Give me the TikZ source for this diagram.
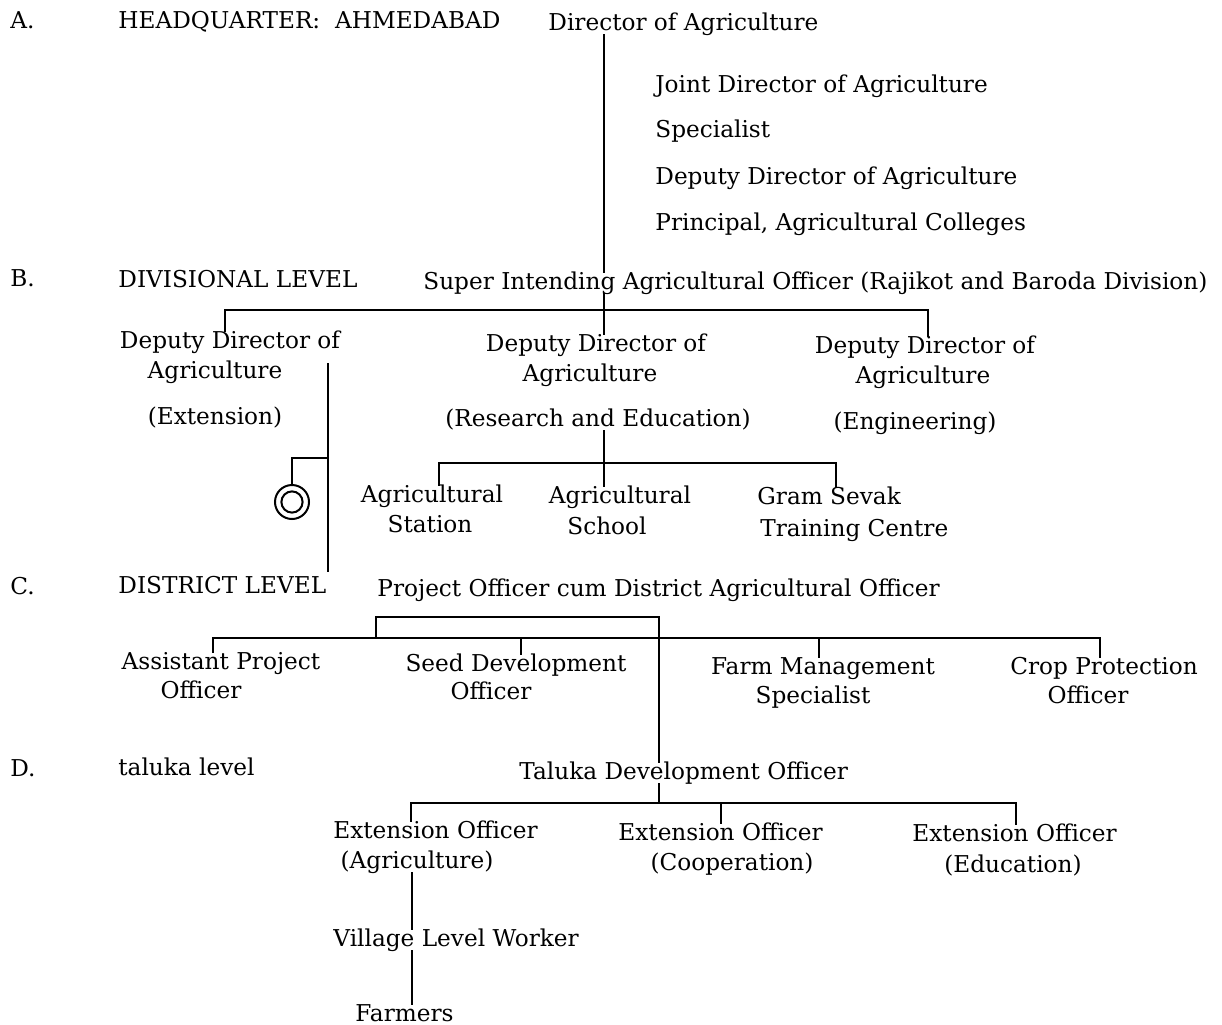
\documentclass[tikz,border=0pt]{standalone}
\usepackage{fontspec}
\setmainfont{DejaVu Serif}
\begin{document}
\begin{tikzpicture}[x=0.5pt,y=-0.5pt,
  txt/.style={font=\fontsize{11.6}{13}\selectfont, inner sep=0pt, text height=1.55ex, text depth=0.35ex},
  lw/.style={anchor=west},
  link/.style={line width=1.1pt}]
\useasboundingbox (0,0) rectangle (1222,1024);

% ---------- A. Headquarter ----------
\node[txt,lw] (la)   at (10,22)  {A.};
\node[txt,lw] (hq)   at (118,22) {HEADQUARTER:\ \ AHMEDABAD};
\node[txt,lw] (dir)  at (548,24) {Director of Agriculture};
\node[txt,lw] (jd)   at (655,86)  {Joint Director of Agriculture};
\node[txt,lw] (spec) at (655,131) {Specialist};
\node[txt,lw] (ddir) at (655,178) {Deputy Director of Agriculture};
\node[txt,lw] (prin) at (655,224) {Principal, Agricultural Colleges};

% ---------- B. Divisional level ----------
\node[txt,lw] (lb)  at (10,280)  {B.};
\node[txt,lw] (div) at (118,281) {DIVISIONAL LEVEL};
\node[txt,lw] (sup) at (423,283) {Super Intending Agricultural Officer (Rajikot and Baroda Division)};

\node[txt] (ddex)  at (230,342) {Deputy Director of};
\node[txt] (agex)  at (215,372) {Agriculture};
\node[txt] (ext)   at (215,418) {(Extension)};
\node[txt] (ddre)  at (596,345) {Deputy Director of};
\node[txt] (agre)  at (590,375) {Agriculture};
\node[txt] (re)    at (598,420) {(Research and Education)};
\node[txt] (ddeng) at (925,347) {Deputy Director of};
\node[txt] (ageng) at (923,377) {Agriculture};
\node[txt] (eng)   at (915,423) {(Engineering)};

\node[txt] (agst)  at (432,496) {Agricultural};
\node[txt] (stn)   at (430,526) {Station};
\node[txt] (agsch) at (620,497) {Agricultural};
\node[txt] (sch)   at (607,528) {School};
\node[txt,lw] (gram) at (757,498) {Gram Sevak};
\node[txt,lw] (trc)  at (760,530) {Training Centre};

\node[circle, draw, line width=1pt, minimum size=17pt, inner sep=0pt] (ring) at (292,502) {};
\draw[line width=1pt] (ring.center) circle[radius=5.3pt];

% ---------- C. District level ----------
\node[txt,lw] (lc)   at (10,588)  {C.};
\node[txt,lw] (dist) at (118,587) {DISTRICT LEVEL};
\node[txt,lw] (poc)  at (377,590) {Project Officer cum District Agricultural Officer};

\node[txt] (apo)  at (221,663)  {Assistant Project};
\node[txt] (apo2) at (201,692)  {Officer};
\node[txt] (sdo)  at (516,665)  {Seed Development};
\node[txt] (sdo2) at (491,693)  {Officer};
\node[txt] (fms)  at (823,668)  {Farm Management};
\node[txt] (fms2) at (813,697)  {Specialist};
\node[txt] (cpo)  at (1104,668) {Crop Protection};
\node[txt] (cpo2) at (1088,697) {Officer};

% ---------- D. Taluka level ----------
\node[txt,lw] (ld)  at (10,770)  {D.};
\node[txt,lw] (tal) at (118,769) {taluka level};
\node[txt,lw] (tdo) at (519,773) {Taluka Development Officer};

\node[txt,lw] (eoa)  at (333,832) {Extension Officer};
\node[txt]    (eoa2) at (417,862) {(Agriculture)};
\node[txt,lw] (eoc)  at (618,834) {Extension Officer};
\node[txt]    (eoc2) at (732,864) {(Cooperation)};
\node[txt,lw] (eoe)  at (912,835) {Extension Officer};
\node[txt]    (eoe2) at (1013,866) {(Education)};
\node[txt,lw] (vlw)  at (333,940) {Village Level Worker};
\node[txt,lw] (far)  at (355,1015) {Farmers};

% ---------- junction points ----------
\coordinate (ax) at (604,310);   % main vertical axis
\coordinate (bL) at (225,310);
\coordinate (bR) at (928,310);
\coordinate (eT) at (328,363);
\coordinate (eB) at (328,572);
\coordinate (eJ) at (328,458);
\coordinate (cL) at (439,463);
\coordinate (cR) at (836,463);
\coordinate (pL) at (376,638);
\coordinate (pR) at (659,617);
\coordinate (qL) at (213,638);
\coordinate (qR) at (1100,638);
\coordinate (qS) at (521,638);
\coordinate (qF) at (819,638);
\coordinate (tJ) at (659,803);
\coordinate (tL) at (411,803);
\coordinate (tR) at (1016,803);
\coordinate (tC) at (721,803);
\coordinate (vx) at (412,900);

% ---------- connectors ----------
\draw[link] (dir.south -| ax) -- (sup.north -| ax);
\draw[link] (sup.south -| ax) -- (ddre.north -| ax);
\draw[link] (ddex.north -| bL) |- (bR) -- (ddeng.north -| bR);

\draw[link] (eT) -- (eB);
\draw[link] (eJ) -| (ring.north);

\draw[link] (re.south -| ax) -- (agsch.north -| ax);
\draw[link] (agst.north -| cL) |- (cR) -- (gram.north -| cR);

\draw[link] (pL) |- (pR) -- (tdo.north -| pR);
\draw[link] (apo.north -| qL) |- (qR) -- (cpo.north -| qR);
\draw[link] (sdo.north -| qS) -- (qS);
\draw[link] (fms.north -| qF) -- (qF);

\draw[link] (tdo.south -| tJ) -- (tJ);
\draw[link] (eoa.north -| tL) |- (tR) -- (eoe.north -| tR);
\draw[link] (eoc.north -| tC) -- (tC);

\draw[link] (eoa2.south -| vx) -- (vlw.north -| vx);
\draw[link] (vlw.south -| vx) -- (far.north -| vx);
\end{tikzpicture}
\end{document}
